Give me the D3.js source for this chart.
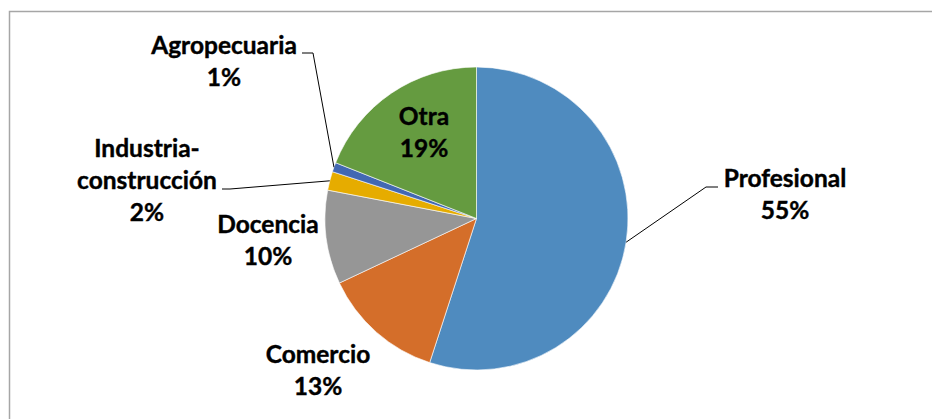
<!DOCTYPE html>
<html>
<head>
<meta charset="utf-8">
<script src="https://cdn.jsdelivr.net/npm/d3@7"></script>
<style>
	body { margin: 0; background: #fff; }
	#container { width: 932px; height: 419px; }
</style>
</head>
<body>
<div id="container"></div>
<script>
var categories = ['Profesional', 'Comercio', 'Docencia', 'Industria-construcción', 'Agropecuaria', 'Otra'];
var values = [55, 13, 10, 2, 1, 19];
var percentLabels = ['55%', '13%', '10%', '2%', '1%', '19%'];
var colors = ['#4F8BBF', '#D46E2A', '#969696', '#E6AC00', '#4268B3', '#659B40'];

var width = 932,
	height = 419;

var svg = d3.select('#container').append('svg')
	.attr('width', width)
	.attr('height', height);

// chart border
svg.append('rect')
	.attr('x', 9.5)
	.attr('y', 11.5)
	.attr('width', width)
	.attr('height', height)
	.style('fill', '#fff')
	.attr('stroke', '#a6a6a6')
	.attr('stroke-width', 1.5);

var cx = 476.5, cy = 218.5, radius = 151.5;

var data = categories.map(function(c, i) {
	return { name: c, value: values[i], label: percentLabels[i], color: colors[i] };
});

var pie = d3.pie().sort(null).value(function(d) { return d.value; });
var arc = d3.arc().innerRadius(0).outerRadius(radius);

var g = svg.append('g')
	.attr('transform', 'translate(' + cx + ',' + cy + ')');

var arcs = pie(data);

g.selectAll('path')
	.data(arcs)
	.enter().append('path')
	.attr('d', arc)
	.style('fill', function(d) { return d.data.color; })
	.attr('stroke', '#fff')
	.attr('stroke-width', 0.6);

// label placement (page coords of first baseline)
var labelPos = {
	'Profesional':            { x: 785, y: 187, lines: ['Profesional'] },
	'Comercio':               { x: 318, y: 363, lines: ['Comercio'] },
	'Docencia':               { x: 268, y: 233, lines: ['Docencia'] },
	'Industria-construcción': { x: 147, y: 157, lines: ['Industria-', 'construcción'] },
	'Agropecuaria':           { x: 224, y: 54,  lines: ['Agropecuaria'] },
	'Otra':                   { x: 424, y: 125, lines: ['Otra'] }
};

// leader lines: [label end x, label end y, elbow x], end at the slice edge
var leaders = {
	'Profesional':            [718, 187, 706],
	'Industria-construcción': [222, 189, 230],
	'Agropecuaria':           [302, 53, 313]
};

var lineH = 32;

arcs.forEach(function(a) {
	var p = labelPos[a.data.name];
	var lines = p.lines.concat([a.data.label]);
	var t = svg.append('text')
		.attr('text-anchor', 'middle')
		.style('font-family', 'Lato, "Open Sans", sans-serif')
		.style('font-weight', 'bold')
		.style('font-size', '24.5px')
		.style('fill', '#000')
		.style('stroke', '#000')
		.style('stroke-width', 0.4);
	lines.forEach(function(l, i) {
		t.append('tspan')
			.attr('x', p.x)
			.attr('y', p.y + i * lineH)
			.text(l);
	});

	var ld = leaders[a.data.name];
	if (ld) {
		var mid = (a.startAngle + a.endAngle) / 2;
		var ex = cx + Math.sin(mid) * radius;
		var ey = cy - Math.cos(mid) * radius;
		svg.append('path')
			.attr('d', 'M' + ld[0] + ',' + ld[1] + 'L' + ld[2] + ',' + ld[1] + 'L' + ex + ',' + ey)
			.style('fill', 'none')
			.attr('stroke', '#000')
			.attr('stroke-width', 1);
	}
});
</script>
</body>
</html>
